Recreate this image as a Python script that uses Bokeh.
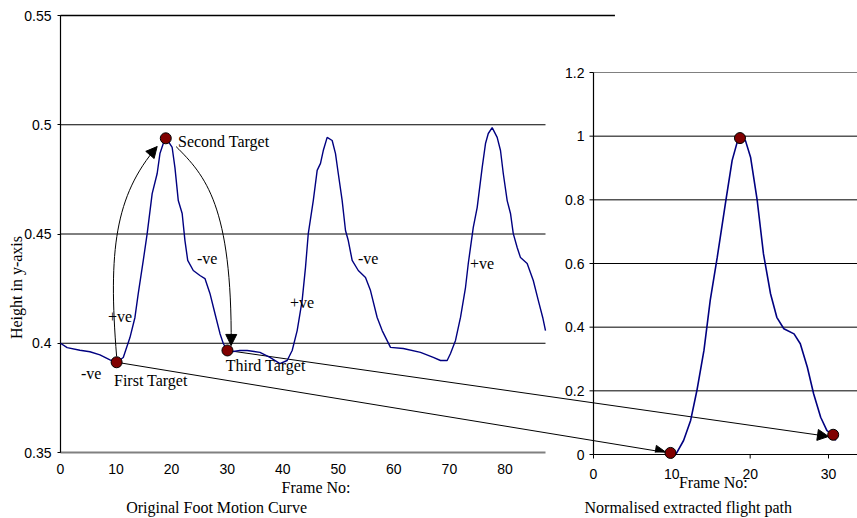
import math
from bokeh.plotting import figure
from bokeh.models import Range1d, FixedTicker, LinearAxis, Arrow, NormalHead
from bokeh.core.properties import value
from bokeh.embed import file_html
from bokeh.resources import INLINE

# ---------------- data ----------------
orig_frame = [0, 1.2, 3.5, 5.3, 7.1, 8.9, 10.1, 11.3, 12.5, 13.4, 14.0, 14.9, 15.6, 16.5, 17.4, 17.9,
              18.5, 19.0, 20.1, 20.6, 21.2, 21.9, 22.4, 22.9, 23.9, 25.1, 26.0, 26.9, 27.8, 28.7, 29.3,
              30.0, 31.1, 32.3, 33.6, 35.9, 37.7, 39.5, 40.8, 41.7, 42.6, 43.5, 44.1, 44.6, 45.5, 46.2,
              46.8, 47.3, 48.0, 48.9, 49.5, 50.0, 50.7, 51.3, 51.8, 52.5, 53.6, 54.9, 55.8, 57.0, 57.9,
              59.4, 61.7, 64.8, 67.1, 68.4, 69.6, 70.2, 71.1, 72.0, 72.9, 73.4, 74.3, 75.0, 75.9, 76.5,
              77.0, 77.7, 78.6, 79.2, 79.7, 80.4, 81.0, 81.5, 82.2, 82.8, 84.0, 85.1, 86.0, 86.8, 87.3]
orig_height = [0.400, 0.398, 0.3968, 0.3961, 0.3947, 0.3924, 0.3913, 0.3935, 0.4026, 0.4118, 0.4228,
               0.4379, 0.4502, 0.4685, 0.4777, 0.4868, 0.4914, 0.4940, 0.4896, 0.4804, 0.4653, 0.4594,
               0.4470, 0.4379, 0.4333, 0.4310, 0.4296, 0.4228, 0.4136, 0.4045, 0.3999, 0.3967, 0.3962,
               0.3967, 0.3967, 0.3958, 0.3935, 0.3907, 0.3921, 0.3967, 0.4058, 0.4196, 0.4347, 0.4502,
               0.4653, 0.4791, 0.4823, 0.4882, 0.4942, 0.4928, 0.4868, 0.4777, 0.4653, 0.4516, 0.4470,
               0.4379, 0.4333, 0.4301, 0.4241, 0.4118, 0.4058, 0.3981, 0.3976, 0.3958, 0.3935, 0.3921,
               0.3921, 0.3953, 0.4013, 0.4118, 0.4255, 0.4365, 0.4530, 0.4621, 0.4804, 0.4914, 0.4960,
               0.4987, 0.4942, 0.4882, 0.4777, 0.4653, 0.4594, 0.4502, 0.4438, 0.4392, 0.4365, 0.4287,
               0.4196, 0.4118, 0.4058]
assert len(orig_frame) == len(orig_height)

orig_target_frame = [10.1, 18.95, 30.05]
orig_target_height = [0.3913, 0.4938, 0.3967]
orig_target_names = ["First Target", "Second Target", "Third Target"]

norm_frame = [9.83, 10.6, 11.5, 12.4, 13.2, 14.1, 14.9, 15.8, 16.9, 17.7, 18.4, 18.7, 19.4, 20.05,
              20.9, 21.7, 22.6, 23.4, 24.3, 25.6, 26.4, 27.3, 28.1, 29.0, 29.8, 30.6, 30.9]
norm_height = [0.005, 0.004, 0.044, 0.107, 0.201, 0.327, 0.484, 0.62, 0.798, 0.924, 0.986, 0.994,
               0.986, 0.934, 0.798, 0.63, 0.505, 0.431, 0.395, 0.379, 0.348, 0.274, 0.191, 0.117,
               0.075, 0.062, 0.044]
assert len(norm_frame) == len(norm_height)

norm_target_frame = [9.83, 18.7, 30.6]
norm_target_height = [0.005, 0.994, 0.062]

left_y_ticks = [0.35, 0.4, 0.45, 0.5, 0.55]
left_y_labels = ["0.35", "0.4", "0.45", "0.5", "0.55"]
left_x_ticks = [0, 10, 20, 30, 40, 50, 60, 70, 80]
left_grid = [0.4, 0.45, 0.5]
right_y_ticks = [0, 0.2, 0.4, 0.6, 0.8, 1.0, 1.2]
right_y_labels = ["0", "0.2", "0.4", "0.6", "0.8", "1", "1.2"]
right_grid = [0.2, 0.4, 0.6, 0.8, 1.0]
right_x_ticks = [0, 10, 20, 30]
right_x_labels = ["0", "10", "20", "30"]

sign_text = ["-ve", "+ve", "-ve", "+ve", "-ve", "+ve"]
sign_frame = [3.69, 8.55, 24.57, 41.31, 53.55, 73.7]
sign_height = [0.3862, 0.4122, 0.4388, 0.4185, 0.4388, 0.4365]

# ---------------- layout ----------------
W, H = 857, 518
BL, BT, BB, BR = 60, 15, 66, 0
FW = W - BL - BR
FH = H - BT - BB
LEFT_X_MAX = 87.3          # end of the left chart's x axis
LEFT_PLOT_PX = 485         # width of the left chart in px
LEFT_TOP_BORDER_X = 99.8   # outer border line at the top
R_ORIGIN_PX = 533          # right chart origin, px from frame left
R_PX_PER_X = 235 / 30
R_PX_PER_Y = 382 / 1.2
R_ZERO_BELOW_PX = 2
TICK_FONT = "14px"

lx = Range1d(0, LEFT_X_MAX * FW / LEFT_PLOT_PX)
ly = Range1d(0.35, 0.55)
rx0 = -R_ORIGIN_PX / R_PX_PER_X
rx = Range1d(rx0, rx0 + FW / R_PX_PER_X)
ry0 = R_ZERO_BELOW_PX / R_PX_PER_Y
ry = Range1d(ry0, ry0 + FH / R_PX_PER_Y)


def r2l_x(x):
    return lx.start + (x - rx.start) * (lx.end - lx.start) / (rx.end - rx.start)


def r2l_y(y):
    return ly.start + (y - ry.start) * (ly.end - ly.start) / (ry.end - ry.start)


SERIF = value("Liberation Serif")
SANS = value("Liberation Sans")
NAVY = "#000080"
DARKRED = "#800000"
GRAY = "#808080"
OV = "overlay"

p = figure(width=W, height=H, x_range=lx, y_range=ly, output_backend="svg",
           toolbar_location=None, x_axis_type=None, y_axis_type=None,
           min_border_left=BL, min_border_right=BR, min_border_top=BT, min_border_bottom=BB)
p.extra_x_ranges = {"r": rx}
p.extra_y_ranges = {"r": ry}
p.outline_line_color = None
p.background_fill_color = "white"
p.border_fill_color = "white"

yax = LinearAxis(ticker=FixedTicker(ticks=left_y_ticks),
                 major_label_overrides={t: s for t, s in zip(left_y_ticks, left_y_labels)},
                 major_tick_out=3, major_tick_in=0, minor_tick_line_color=None,
                 axis_line_color="black", major_tick_line_color="black",
                 major_label_text_font="Liberation Sans", major_label_text_font_size=TICK_FONT,
                 major_label_text_color="black", major_label_standoff=6)
p.add_layout(yax, "left")
xax = LinearAxis(ticker=FixedTicker(ticks=left_x_ticks), bounds=(0, LEFT_X_MAX),
                 major_tick_line_color=None, minor_tick_line_color=None,
                 major_tick_out=0, major_tick_in=0,
                 axis_line_color=GRAY, axis_line_width=2,
                 major_label_text_font="Liberation Sans", major_label_text_font_size=TICK_FONT,
                 major_label_text_color="black", major_label_standoff=11)
p.add_layout(xax, "below")

# ---- left chart grid lines and vertical axis line
p.segment(x0=[0] * len(left_grid), x1=[LEFT_X_MAX] * len(left_grid), y0=left_grid, y1=left_grid,
          line_color="black", line_width=1, level=OV)
p.segment(x0=[0], x1=[LEFT_TOP_BORDER_X], y0=[ly.end], y1=[ly.end], line_color="black",
          line_width=1.5, level=OV)
p.segment(x0=[0], x1=[0], y0=[ly.start], y1=[ly.end], line_color="black", line_width=1.2, level=OV)

# ---- right chart grid + axes (drawn on the right ranges)
rkw = dict(x_range_name="r", y_range_name="r", level=OV)
p.segment(x0=[0] * len(right_grid), x1=[rx.end] * len(right_grid), y0=right_grid, y1=right_grid,
          line_color="black", line_width=1, **rkw)
p.segment(x0=[0], x1=[rx.end], y0=[right_y_ticks[-1]], y1=[right_y_ticks[-1]], line_color=GRAY,
          line_width=1, **rkw)
p.segment(x0=[0], x1=[0], y0=[0], y1=[right_y_ticks[-1]], line_color="black", line_width=1.2, **rkw)
p.segment(x0=[0], x1=[rx.end], y0=[0], y1=[0], line_color="black", line_width=1.2, **rkw)
p.ray(x=[0] * len(right_y_ticks), y=right_y_ticks, length=4, length_units="screen", angle=math.pi,
      line_color="black", line_width=1, **rkw)
p.ray(x=right_x_ticks, y=[0] * len(right_x_ticks), length=4, length_units="screen",
      angle=-math.pi / 2, line_color="black", line_width=1, **rkw)
p.text(x=[0] * len(right_y_ticks), y=right_y_ticks, text=right_y_labels, x_offset=-9,
       text_align="right", text_baseline="middle", text_font=SANS, text_font_size=TICK_FONT,
       text_color="black", **rkw)
p.text(x=right_x_ticks, y=[0] * len(right_x_ticks), text=right_x_labels, y_offset=19,
       text_align="center", text_baseline="middle", text_font=SANS, text_font_size=TICK_FONT,
       text_color="black", **rkw)

# ---- curves
p.line(orig_frame, orig_height, line_color=NAVY, line_width=1.4, level=OV)
p.line(norm_frame, norm_height, line_color=NAVY, line_width=1.6, **rkw)

# ---- curved arrows (Bezier) on the left chart
bez_x0 = [10.1, 20.81]
bez_y0 = [0.394, 0.4900]
bez_cx0 = [8.56, 26.04]
bez_cy0 = [0.4424, 0.4768]
bez_cx1 = [9.82, 30.9]
bez_cy1 = [0.4676, 0.4630]
bez_x1 = [17.39, 30.72]
bez_y1 = [0.4900, 0.3990]
p.bezier(x0=bez_x0, y0=bez_y0, x1=bez_x1, y1=bez_y1, cx0=bez_cx0, cy0=bez_cy0,
         cx1=bez_cx1, cy1=bez_cy1, line_color="black", line_width=1, level=OV)
for i in range(2):
    p.add_layout(Arrow(end=NormalHead(size=11, fill_color="black", line_color="black"),
                       x_start=bez_cx1[i], y_start=bez_cy1[i], x_end=bez_x1[i], y_end=bez_y1[i],
                       line_alpha=0, line_width=1))

# ---- straight arrows from left targets to the normalised chart
arrow_end_frame = [9.3, 30.0]     # right-chart coordinates of the arrow tips
arrow_end_height = [0.006, 0.0566]
for sx, sy, ex, ey in zip([orig_target_frame[0], orig_target_frame[2]],
                          [orig_target_height[0], orig_target_height[2]],
                          arrow_end_frame, arrow_end_height):
    p.add_layout(Arrow(end=NormalHead(size=11, fill_color="black", line_color="black"),
                       x_start=sx, y_start=sy, x_end=r2l_x(ex), y_end=r2l_y(ey),
                       line_color="black", line_width=1))

# ---- target markers
p.scatter(orig_target_frame, orig_target_height, size=11, fill_color=DARKRED, line_color="black",
          line_width=1, level=OV)
p.scatter(norm_target_frame, norm_target_height, size=11, fill_color=DARKRED, line_color="black",
          line_width=1, **rkw)

# ---- text annotations
tkw = dict(text_font=SERIF, text_font_size="16px", text_color="black", text_baseline="middle",
           level=OV)
p.text(x=[9.63, 21.15, 29.74], y=[0.3830, 0.4923, 0.3898], text=orig_target_names,
       text_align="left", **tkw)
p.text(x=sign_frame, y=sign_height, text=sign_text, text_align="left", **tkw)
p.text(x=[0], y=[0.4255], text=["Height in y-axis"], x_offset=-44, angle=math.pi / 2,
       text_align="center", **tkw)
p.text(x=[46.0], y=[ly.start], text=["Frame No:"], y_offset=35, text_align="center", **tkw)
p.text(x=[28.1], y=[ly.start], text=["Original Foot Motion Curve"], y_offset=55,
       text_align="center", **tkw)
tkw_r = dict(tkw)
tkw_r.pop("level")
p.text(x=[15.3], y=[0], text=["Frame No:"], y_offset=28, text_align="center", **tkw_r, **rkw)
p.text(x=[12.1], y=[0], text=["Normalised extracted flight path"], y_offset=53,
       text_align="center", **tkw_r, **rkw)

open("out.html", "w").write(file_html(p, INLINE))
